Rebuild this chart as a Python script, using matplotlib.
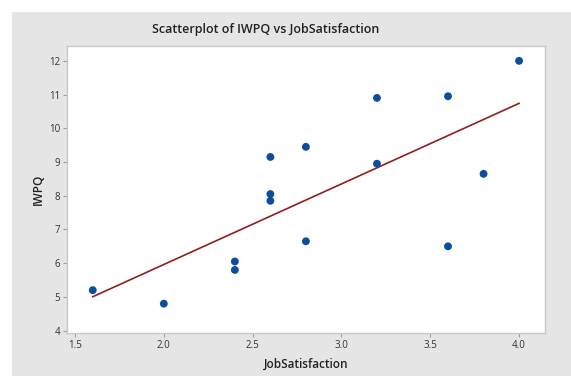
import numpy as np
import matplotlib
matplotlib.use("Agg")
import matplotlib.pyplot as plt
from matplotlib.patches import Rectangle

job_sat = [1.6, 2.0, 2.4, 2.4, 2.6, 2.6, 2.6, 2.8, 2.8, 3.2, 3.2, 3.6, 3.6, 3.8, 4.0]
iwpq = [5.2, 4.8, 6.05, 5.8, 9.15, 8.05, 7.85, 9.45, 6.65, 10.9, 8.95, 10.95, 6.5, 8.65, 12.0]
x_ticks = [1.5, 2.0, 2.5, 3.0, 3.5, 4.0]
y_ticks = [4, 5, 6, 7, 8, 9, 10, 11, 12]

plt.rcParams['font.family'] = ['Open Sans', 'DejaVu Sans']

fig = plt.figure(figsize=(5.71, 3.76), dpi=100, facecolor='white')
# grey Minitab-style panel, with a thin white margin top/left
fig.add_artist(Rectangle((12 / 571, 0), 1, (376 - 12) / 376,
                         transform=fig.transFigure, facecolor='#E5E5E5',
                         edgecolor='none', zorder=-5))

ax = fig.add_axes([67 / 571, 43 / 376, (545 - 67) / 571, (333 - 46) / 376])
ax.set_facecolor('white')

# fitted regression line
slope, icept = np.polyfit(job_sat, iwpq, 1)
xs = np.array([min(job_sat), max(job_sat)])
ax.plot(xs, slope * xs + icept, color='#8E1F1F', lw=1.2, zorder=2)

ax.scatter(job_sat, iwpq, s=32, color='#0B4F9C', edgecolors='none', zorder=3)

ax.set_xlim(1.455, 4.146)
ax.set_ylim(3.93, 12.44)
ax.set_xticks(x_ticks)
ax.set_xticklabels([f'{t:.1f}' for t in x_ticks])
ax.set_yticks(y_ticks)

for s in ax.spines.values():
    s.set_color('#C8C8C8')
    s.set_linewidth(1.0)
ax.tick_params(axis='both', direction='out', length=3, width=0.8,
               color='#A0A0A0', labelsize=7, labelcolor='#333333', pad=2)

ax.set_xlabel('JobSatisfaction', fontsize=8.5, fontweight='semibold', color='#222222', labelpad=5)
ax.set_ylabel('IWPQ', fontsize=8.5, fontweight='semibold', color='#222222', labelpad=3)
fig.text(266 / 571, 1 - 29 / 376, 'Scatterplot of IWPQ vs JobSatisfaction',
         ha='center', va='center', fontsize=9, fontweight='semibold', color='#222222')

fig.savefig('out.png', dpi=100, facecolor='white')
